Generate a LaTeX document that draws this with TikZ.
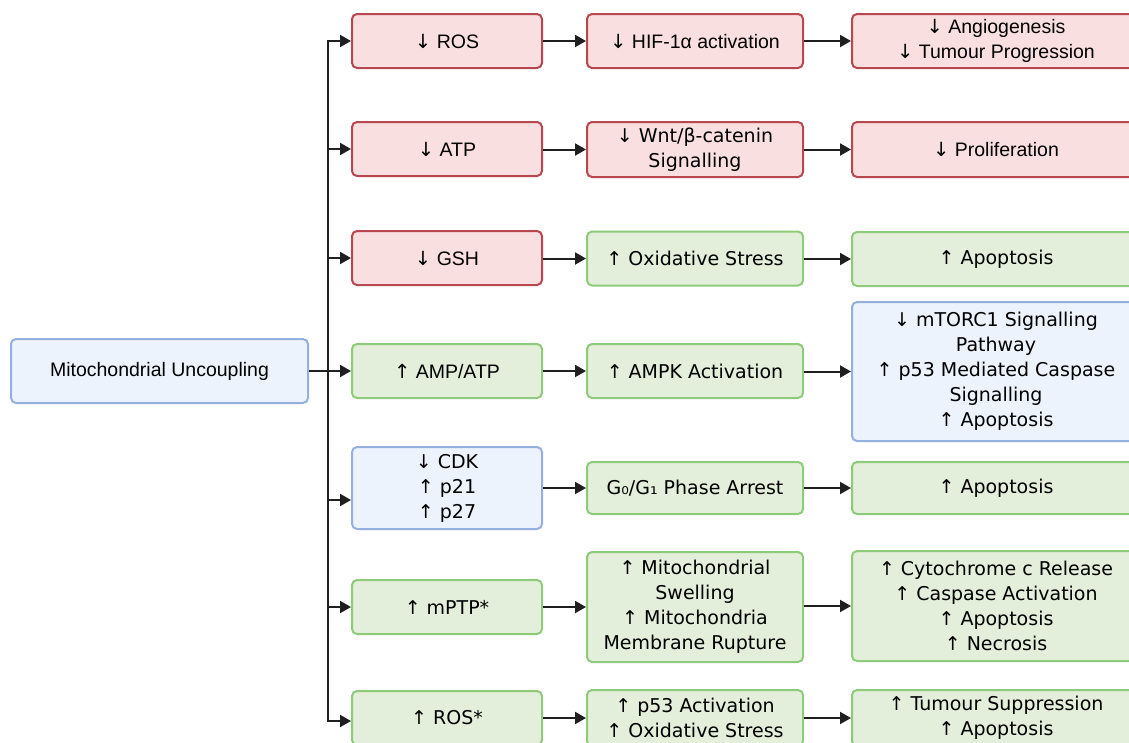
\documentclass[tikz,border=0pt]{standalone}
\usepackage{fontspec}
\usetikzlibrary{arrows.meta,calc}
\newfontfamily\dvfont{DejaVu Sans}
\newfontfamily\rbfont{Liberation Sans}
\newcommand{\dnA}{{\dvfont↓}}
\newcommand{\upA}{{\dvfont↑}}
\definecolor{redfill}{HTML}{F9DFDF}
\definecolor{redline}{HTML}{B8474F}
\definecolor{grnfill}{HTML}{E3EEDB}
\definecolor{grnline}{HTML}{8DCB7A}
\definecolor{blufill}{HTML}{ECF3FC}
\definecolor{bluline}{HTML}{95B0DF}
\definecolor{arrcol}{HTML}{1F1F1F}
\begin{document}
\begin{tikzpicture}[x=1pt,y=-1pt,
  box/.style={rectangle,rounded corners=5pt,line width=2pt,inner sep=0pt,align=center,
    font=\dvfont\fontsize{19}{25}\selectfont},
  rb/.style={font=\rbfont\fontsize{19.5}{25}\selectfont},
  redbox/.style={box,fill=redfill,draw=redline},
  grnbox/.style={box,fill=grnfill,draw=grnline},
  blubox/.style={box,fill=blufill,draw=bluline},
  cA/.style={minimum width=190pt},
  cB/.style={minimum width=216pt},
  cC/.style={minimum width=288pt},
  link/.style={draw=arrcol,line width=2pt},
  arr/.style={link,-{Triangle[length=11pt,width=12pt]}}
]
\useasboundingbox (0,0) rectangle (1129,742);
% root
\node[blubox,rb,minimum width=297pt,minimum height=64pt] (root) at (159.5,371) {Mitochondrial Uncoupling};
% column A
\node[redbox,rb,cA,minimum height=54pt] (a1) at (447,41) {\dnA\ ROS};
\node[redbox,rb,cA,minimum height=54pt] (a2) at (447,149) {\dnA\ ATP};
\node[redbox,rb,cA,minimum height=54pt] (a3) at (447,258) {\dnA\ GSH};
\node[grnbox,rb,cA,minimum height=54pt] (a4) at (447,371) {\upA\ AMP/ATP};
\node[blubox,cA,minimum height=82pt] (a5) at (447,488) {↓ CDK\\↑ p21\\↑ p27};
\node[grnbox,cA,minimum height=54pt] (a6) at (447,607) {↑ mPTP*};
\node[grnbox,cA,minimum height=54pt] (a7) at (447,718) {↑ ROS*};
% column B
\node[redbox,rb,cB,minimum height=54pt] (b1) at (695,41) {\dnA\ HIF-1α activation};
\node[redbox,cB,minimum height=55pt] (b2) at (695,149.5) {↓ Wnt/β-catenin\\Signalling};
\node[grnbox,cB,minimum height=54pt] (b3) at (695,258.5) {↑ Oxidative Stress};
\node[grnbox,cB,minimum height=54pt] (b4) at (695,371) {↑ AMPK Activation};
\node[grnbox,cB,minimum height=52pt] (b5) at (695,488) {G₀/G₁ Phase Arrest};
\node[grnbox,cB,minimum height=110pt] (b6) at (695,607) {↑ Mitochondrial\\Swelling\\↑ Mitochondria\\Membrane Rupture};
\node[grnbox,cB,minimum height=56pt] (b7) at (695,718) {↑ p53 Activation\\↑ Oxidative Stress};
% column C
\node[redbox,rb,cC,minimum height=54pt] (c1) at (996,41) {\dnA\ Angiogenesis\\\dnA\ Tumour Progression};
\node[redbox,rb,cC,minimum height=55pt] (c2) at (996,149.5) {\dnA\ Proliferation};
\node[grnbox,cC,minimum height=54pt] (c3) at (996,259) {↑ Apoptosis};
\node[blubox,cC,minimum height=139pt] (c4) at (996,371.5) {↓ mTORC1 Signalling\\Pathway\\↑ p53 Mediated Caspase\\Signalling\\↑ Apoptosis};
\node[grnbox,cC,minimum height=52pt] (c5) at (996,488) {↑ Apoptosis};
\node[grnbox,cC,minimum height=110pt] (c6) at (996,606) {↑ Cytochrome c Release\\↑ Caspase Activation\\↑ Apoptosis\\↑ Necrosis};
\node[grnbox,cC,minimum height=56pt] (c7) at (996,718) {↑ Tumour Suppression\\↑ Apoptosis};
% trunk
\coordinate (tA) at (328,41);
\coordinate (tG) at (328,721);
\coordinate (t5) at (328,500);
\draw[link,line cap=rect] (tA) -- (tG);
\draw[arr] (tA) -- (a1.west);
\draw[arr] (tA |- a2.west) -- (a2.west);
\draw[arr] (tA |- a3.west) -- (a3.west);
\draw[arr] (root.east) -- (a4.west);
\draw[arr] (t5) -- (a5.west |- t5);
\draw[arr] (tA |- a6.west) -- (a6.west);
\draw[arr] (tG) -- (a7.west |- tG);
% A -> B and B -> C
\foreach \i in {1,2,3,4,5,6,7}{
  \draw[arr] (a\i.east |- b\i.west) -- (b\i.west);
  \draw[arr] (b\i.east |- c\i.west) -- (c\i.west);
}
\end{tikzpicture}
\end{document}
